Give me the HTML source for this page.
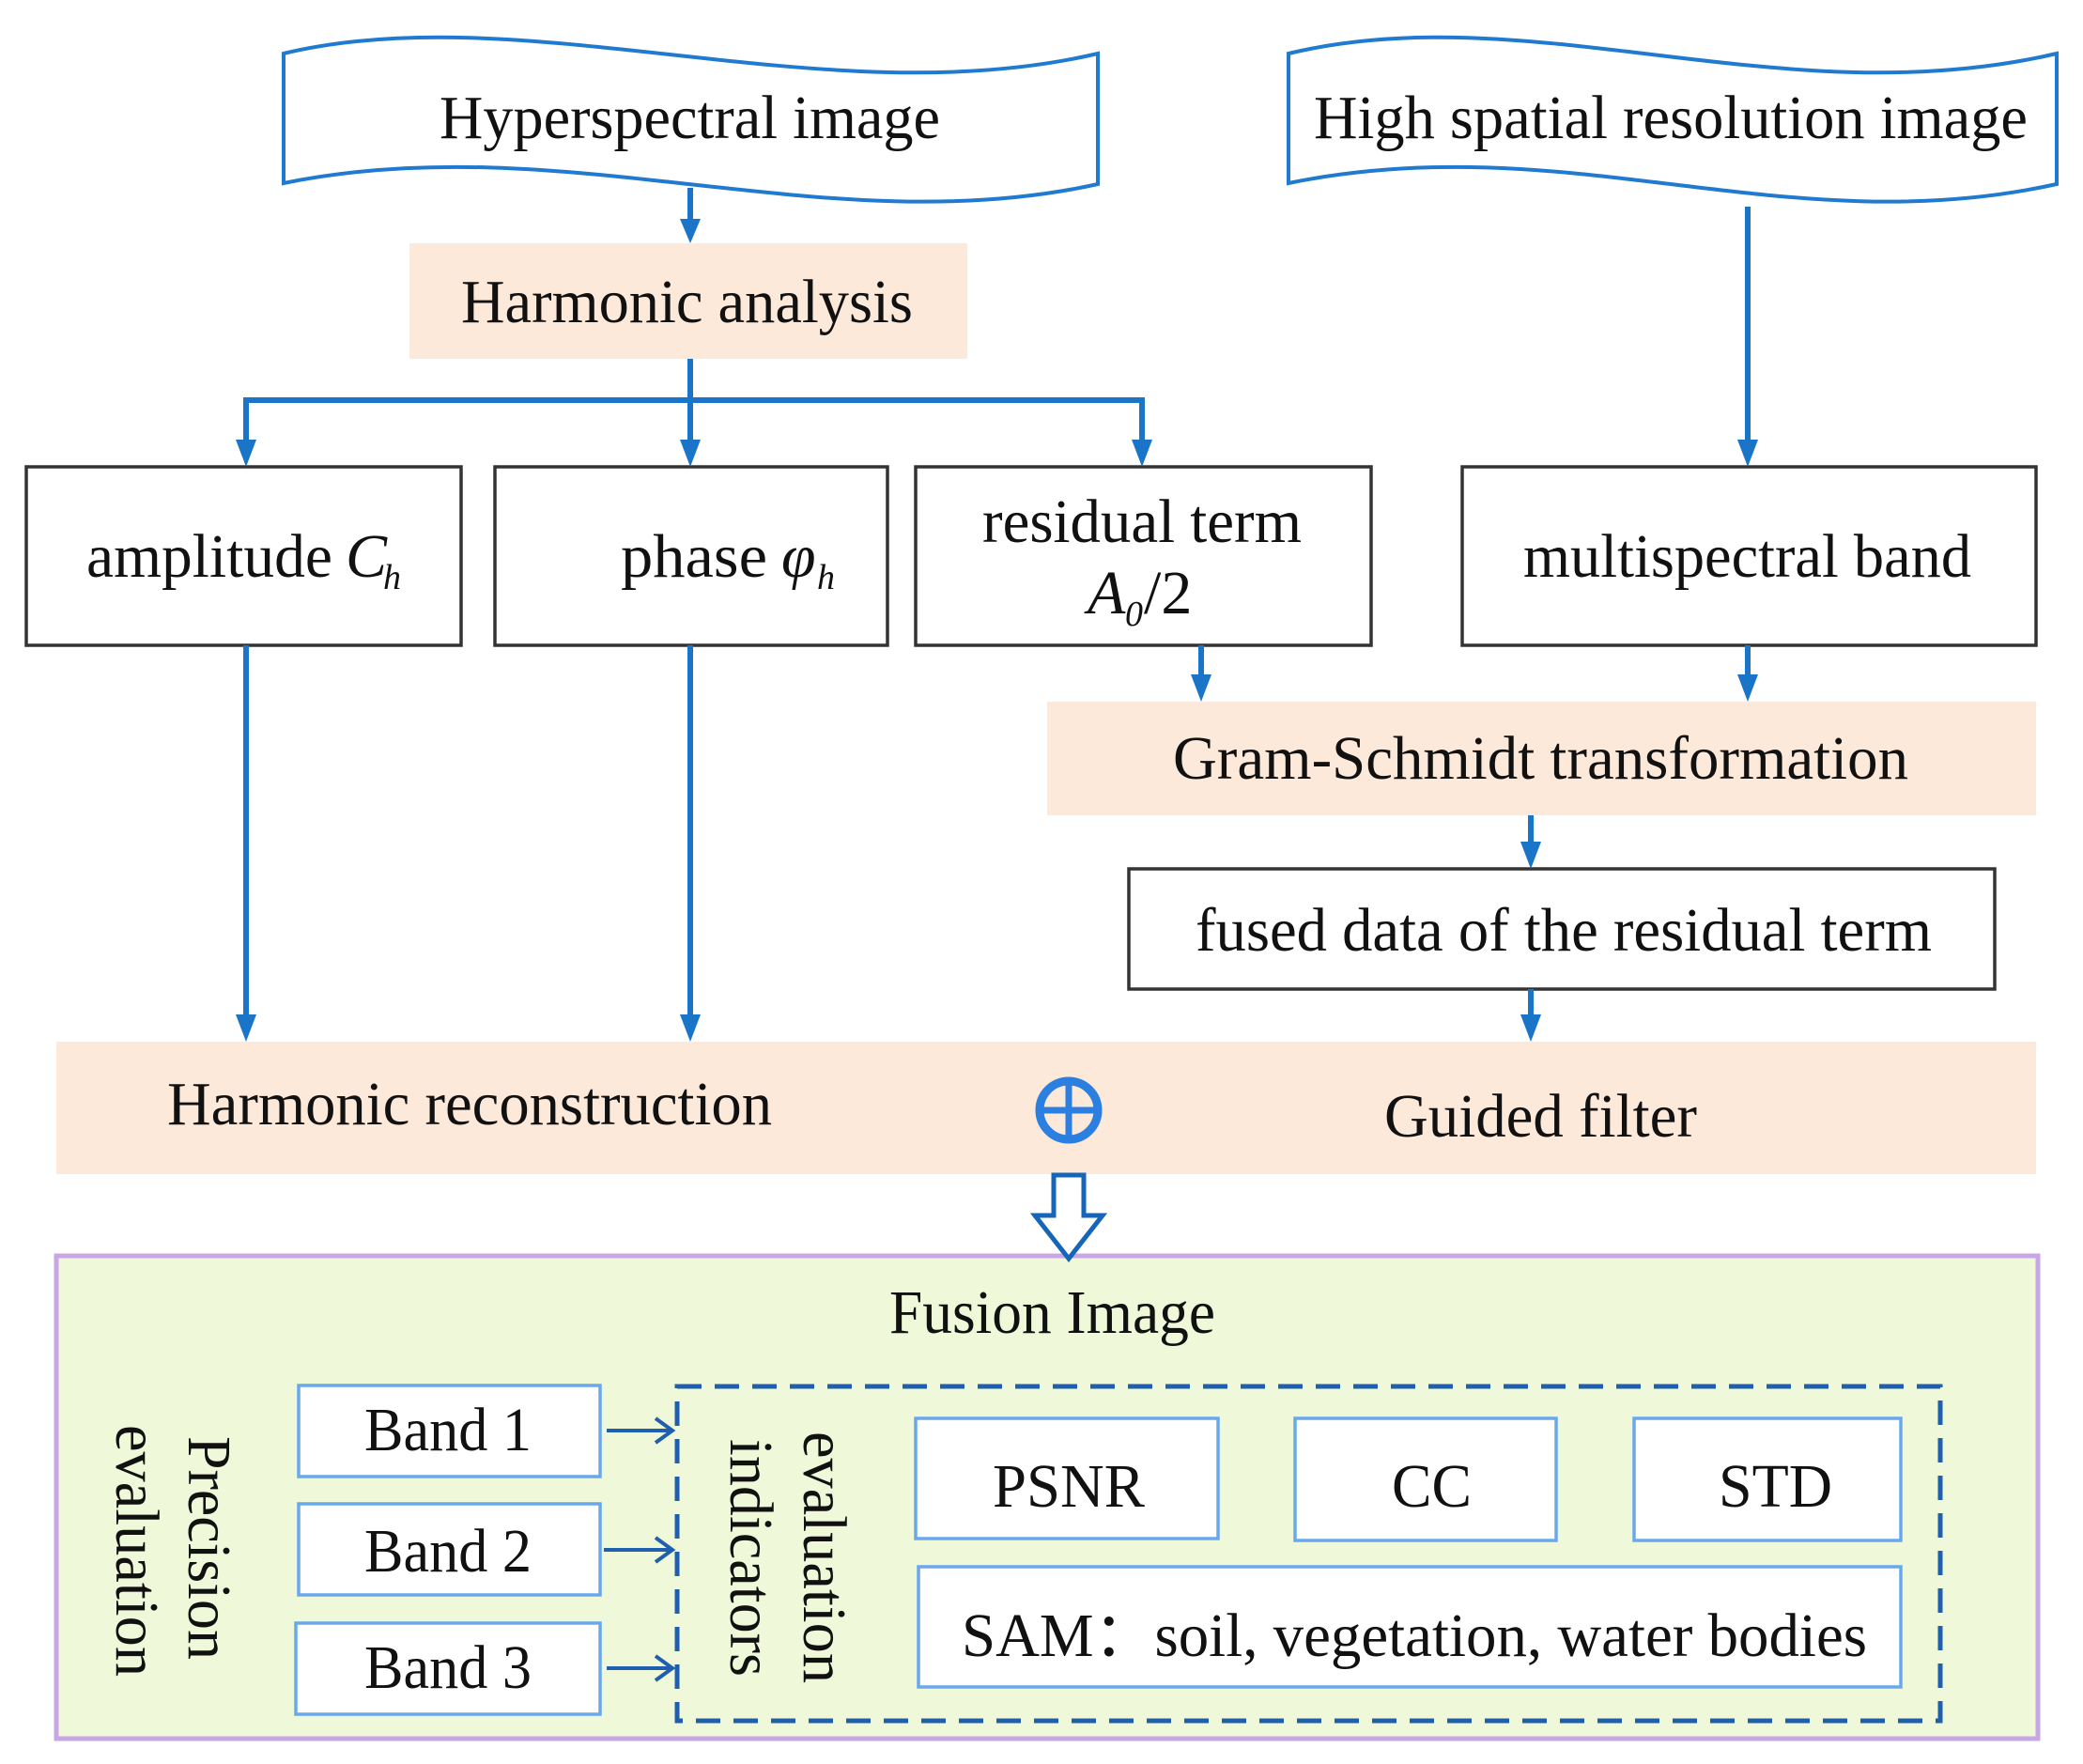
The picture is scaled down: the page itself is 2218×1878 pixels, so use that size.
<!DOCTYPE html>
<html><head><meta charset="utf-8"><style>
html,body{margin:0;padding:0;background:#fff;}
svg{display:block;}
text{font-family:"Liberation Serif",serif;fill:#111;}
</style></head><body>
<svg width="2218" height="1878" viewBox="0 0 2218 1878" xmlns="http://www.w3.org/2000/svg">
<rect width="2218" height="1878" fill="#fff"/>

<!-- waves -->
<path d="M302,57 C560,-5 880,125 1169,57 L1169,196 C880,260 600,134 302,195 Z" fill="#fff" stroke="#1f7ad0" stroke-width="4"/>
<path d="M1372,57 C1630,-5 1900,125 2190,57 L2190,196 C1900,260 1670,134 1372,195 Z" fill="#fff" stroke="#1f7ad0" stroke-width="4"/>
<text x="468" y="147" font-size="66" textLength="533" lengthAdjust="spacingAndGlyphs">Hyperspectral image</text>
<text x="1399" y="147" font-size="66" textLength="760" lengthAdjust="spacingAndGlyphs">High spatial resolution image</text>

<!-- peach boxes -->
<rect x="436" y="259" width="594" height="123" fill="#fde9da"/>
<text x="491" y="343" font-size="66" textLength="481" lengthAdjust="spacingAndGlyphs">Harmonic analysis</text>
<rect x="1115" y="747" width="1053" height="121" fill="#fde9da"/>
<text x="1249" y="829" font-size="66" textLength="783" lengthAdjust="spacingAndGlyphs">Gram-Schmidt transformation</text>
<rect x="60" y="1109" width="2108" height="141" fill="#fde9da"/>
<text x="178" y="1197" font-size="66" textLength="644" lengthAdjust="spacingAndGlyphs">Harmonic reconstruction</text>
<text x="1474" y="1210" font-size="66" textLength="333" lengthAdjust="spacingAndGlyphs">Guided filter</text>

<!-- black boxes -->
<g fill="#fff" stroke="#333" stroke-width="3.5">
<rect x="28" y="497" width="463" height="190"/>
<rect x="527" y="497" width="418" height="190"/>
<rect x="975" y="497" width="485" height="190"/>
<rect x="1557" y="497" width="611" height="190"/>
<rect x="1202" y="925" width="922" height="128"/>
</g>
<text x="92" y="614" font-size="66" textLength="262" lengthAdjust="spacingAndGlyphs">amplitude</text>
<text x="368" y="614" font-size="66" font-style="italic">C</text><text x="408" y="627" font-size="38" font-style="italic">h</text>
<text x="661" y="614" font-size="66" textLength="156" lengthAdjust="spacingAndGlyphs">phase</text>
<text x="832" y="614" font-size="66" font-style="italic">φ</text><text x="870" y="627" font-size="38" font-style="italic">h</text>
<text x="1046" y="577" font-size="66" textLength="340" lengthAdjust="spacingAndGlyphs">residual term</text>
<text x="1158" y="653" font-size="66" font-style="italic">A</text><text x="1198" y="666" font-size="38" font-style="italic">0</text><text x="1218" y="653" font-size="66">/2</text>
<text x="1622" y="614" font-size="66" textLength="477" lengthAdjust="spacingAndGlyphs">multispectral band</text>
<text x="1273" y="1012" font-size="66" textLength="784" lengthAdjust="spacingAndGlyphs">fused data of the residual term</text>

<!-- connectors -->
<g stroke="#1a74c8" stroke-width="6" fill="none">
<line x1="735" y1="200" x2="735" y2="235"/>
<line x1="735" y1="382" x2="735" y2="426"/>
<polyline points="262,470 262,426 1216,426 1216,470"/>
<line x1="735" y1="426" x2="735" y2="470"/>
<line x1="1861" y1="220" x2="1861" y2="470"/>
<line x1="1279" y1="687" x2="1279" y2="720"/>
<line x1="1861" y1="687" x2="1861" y2="720"/>
<line x1="1630" y1="868" x2="1630" y2="898"/>
<line x1="1630" y1="1053" x2="1630" y2="1082"/>
<line x1="262" y1="687" x2="262" y2="1082"/>
<line x1="735" y1="687" x2="735" y2="1082"/>
</g>
<g fill="#1a74c8">
<polygon points="724,233 746,233 735,259"/>
<polygon points="251,468 273,468 262,497"/>
<polygon points="724,468 746,468 735,497"/>
<polygon points="1205,468 1227,468 1216,497"/>
<polygon points="1850,468 1872,468 1861,497"/>
<polygon points="1268,718 1290,718 1279,747"/>
<polygon points="1850,718 1872,718 1861,747"/>
<polygon points="1619,896 1641,896 1630,925"/>
<polygon points="1619,1080 1641,1080 1630,1109"/>
<polygon points="251,1080 273,1080 262,1109"/>
<polygon points="724,1080 746,1080 735,1109"/>
</g>

<!-- oplus -->
<circle cx="1138" cy="1182" r="31" fill="none" stroke="#2a7fe0" stroke-width="9"/>
<line x1="1138" y1="1151" x2="1138" y2="1213" stroke="#2a7fe0" stroke-width="7"/>
<line x1="1107" y1="1182" x2="1169" y2="1182" stroke="#2a7fe0" stroke-width="7"/>

<!-- fusion box -->
<rect x="60" y="1337" width="2110" height="514" fill="#eff8d8" stroke="#c9a6e6" stroke-width="5"/>
<polygon points="1122,1251 1154,1251 1154,1294 1174,1294 1138,1340 1102,1294 1122,1294" fill="#fff" stroke="#1565b8" stroke-width="5"/>
<text x="947" y="1419" font-size="66" textLength="347" lengthAdjust="spacingAndGlyphs">Fusion Image</text>

<!-- rotated labels -->
<text transform="translate(201,1529) rotate(90)" font-size="66" textLength="238" lengthAdjust="spacingAndGlyphs">Precision</text>
<text transform="translate(124,1517) rotate(90)" font-size="66" textLength="268" lengthAdjust="spacingAndGlyphs">evaluation</text>
<text transform="translate(856,1524) rotate(90)" font-size="66" textLength="268" lengthAdjust="spacingAndGlyphs">evaluation</text>
<text transform="translate(778,1532) rotate(90)" font-size="66" textLength="253" lengthAdjust="spacingAndGlyphs">indicators</text>

<!-- band boxes -->
<g fill="#fff" stroke="#6aa8ec" stroke-width="3.5">
<rect x="318" y="1475" width="321" height="97"/>
<rect x="318" y="1601" width="321" height="97"/>
<rect x="315" y="1728" width="324" height="97"/>
<rect x="975" y="1510" width="322" height="128"/>
<rect x="1379" y="1510" width="278" height="130"/>
<rect x="1740" y="1510" width="284" height="130"/>
<rect x="978" y="1668" width="1046" height="128"/>
</g>
<text x="388" y="1544" font-size="66" textLength="178" lengthAdjust="spacingAndGlyphs">Band 1</text>
<text x="388" y="1673" font-size="66" textLength="178" lengthAdjust="spacingAndGlyphs">Band 2</text>
<text x="388" y="1797" font-size="66" textLength="178" lengthAdjust="spacingAndGlyphs">Band 3</text>
<text x="1057" y="1604" font-size="66" textLength="162" lengthAdjust="spacingAndGlyphs">PSNR</text>
<text x="1482" y="1604" font-size="66" textLength="85" lengthAdjust="spacingAndGlyphs">CC</text>
<text x="1830" y="1604" font-size="66" textLength="121" lengthAdjust="spacingAndGlyphs">STD</text>
<text x="1024" y="1763" font-size="66" textLength="964" lengthAdjust="spacingAndGlyphs">SAM：soil, vegetation, water bodies</text>

<!-- dashed box -->
<rect x="721" y="1476" width="1345" height="356" fill="none" stroke="#1f5fae" stroke-width="5" stroke-dasharray="26,14"/>

<!-- band arrows -->
<g stroke="#1f5fae" stroke-width="4" fill="none">
<line x1="646" y1="1523" x2="716" y2="1523"/><polyline points="698,1510 716,1523 698,1536"/>
<line x1="643" y1="1650" x2="716" y2="1650"/><polyline points="698,1637 716,1650 698,1663"/>
<line x1="646" y1="1776" x2="716" y2="1776"/><polyline points="698,1763 716,1776 698,1789"/>
</g>
</svg>
</body></html>
